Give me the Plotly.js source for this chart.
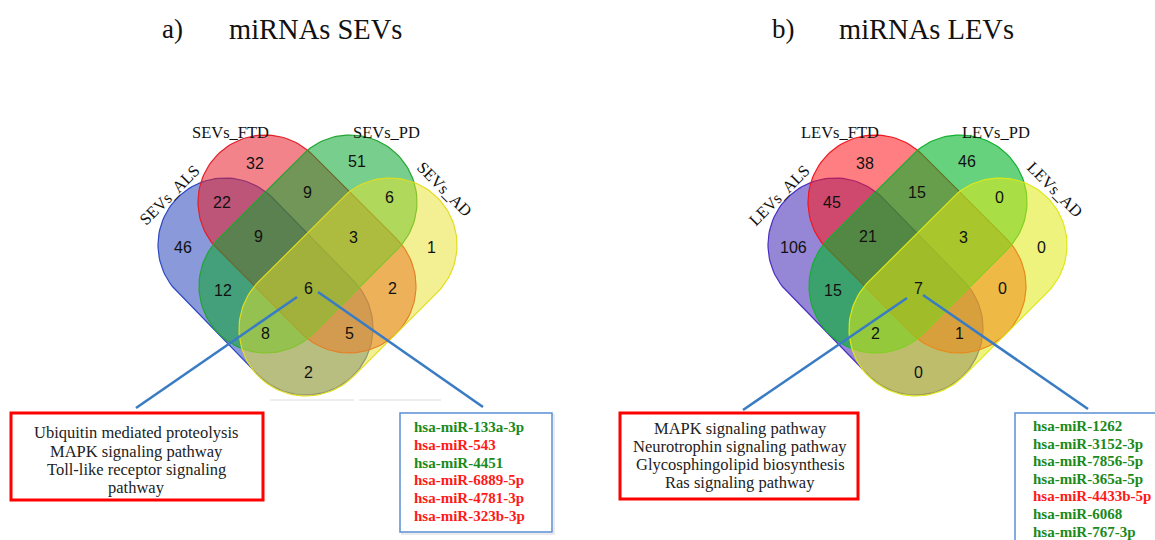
<!DOCTYPE html>
<html>
<head>
<meta charset="utf-8">
<script src="https://cdn.plot.ly/plotly-3.0.1.min.js"></script>
<style>html,body{margin:0;padding:0;background:#fff;}#chart{width:1155px;height:540px;}</style>
</head>
<body>
<div id="chart"></div>
<script>
// ---------------- DATA ----------------
const PANEL_TITLES = ['miRNAs SEVs', 'miRNAs LEVs'];
const PANEL_LETTERS = ['a)', 'b)'];
const SEV_SETS = ['SEVs_ALS', 'SEVs_FTD', 'SEVs_PD', 'SEVs_AD'];
const LEV_SETS = ['LEVs_ALS', 'LEVs_FTD', 'LEVs_PD', 'LEVs_AD'];
// region keys
const REGIONS = ['ALS', 'FTD', 'PD', 'AD', 'ALS&FTD', 'FTD&PD', 'PD&AD', 'ALS&FTD&PD',
                 'FTD&PD&AD', 'ALS&PD', 'ALS&FTD&PD&AD', 'FTD&AD', 'ALS&PD&AD', 'ALS&FTD&AD', 'ALS&AD'];
const SEV_COUNTS = [46, 32, 51, 1, 22, 9, 6, 9, 3, 12, 6, 2, 8, 5, 2];
const LEV_COUNTS = [106, 38, 46, 0, 45, 15, 0, 21, 3, 15, 7, 0, 2, 1, 0];
const SEV_PATHWAYS = ['Ubiquitin mediated proteolysis', 'MAPK signaling pathway', 'Toll-like receptor signaling', 'pathway'];
const LEV_PATHWAYS = ['MAPK signaling pathway', 'Neurotrophin signaling pathway', 'Glycosphingolipid biosynthesis', 'Ras signaling pathway'];
const SEV_MIRNAS = ['hsa-miR-133a-3p', 'hsa-miR-543', 'hsa-miR-4451', 'hsa-miR-6889-5p', 'hsa-miR-4781-3p', 'hsa-miR-323b-3p'];
const SEV_REG = ['up', 'down', 'up', 'down', 'down', 'down'];
const LEV_MIRNAS = ['hsa-miR-1262', 'hsa-miR-3152-3p', 'hsa-miR-7856-5p', 'hsa-miR-365a-5p', 'hsa-miR-4433b-5p', 'hsa-miR-6068', 'hsa-miR-767-3p'];
const LEV_REG = ['up', 'up', 'up', 'up', 'down', 'up', 'up'];

// ---------------- LAYOUT / GEOMETRY ----------------
const PANEL_DX = [0, 610];
const R = 67;
// stadium cap centres (relative to panel)
const STADIA = [
  [[225, 245], [306, 328]],  // ALS
  [[265, 202], [349, 286]],  // FTD
  [[350, 202], [266, 286]],  // PD
  [[390, 245], [306, 329]]   // AD
];
const REGION_POS = [
  [183, 247], [255, 163], [357, 161], [431, 247], [222, 202], [307, 192], [389, 197], [258, 236],
  [353, 237], [223, 290], [308, 288], [392, 288], [265, 333], [349, 333], [308, 372]
];
const FILLS = [
  ['rgba(40,70,185,0.55)', 'rgba(232,30,42,0.55)', 'rgba(10,165,45,0.55)', 'rgba(232,226,40,0.5)'],
  ['rgba(62,36,180,0.55)', 'rgba(255,20,25,0.55)', 'rgba(0,180,40,0.6)', 'rgba(224,234,20,0.55)']
];
const EDGES = [
  ['#3048c0', '#e0202a', '#22a532', '#e2dc20'],
  ['#4a30c0', '#f01820', '#12b030', '#dde818']
];
const LABEL_POS = [[169, 195, -45], [230, 132, 0], [386, 132, 0], [445, 189, 45]];

function stadium(c1, c2, r, dx) {
  const ux = c2[0] - c1[0], uy = c2[1] - c1[1];
  const th = Math.atan2(uy, ux);
  const xs = [], ys = [];
  const N = 60;
  for (let i = 0; i <= N; i++) {
    const a = th - Math.PI / 2 + Math.PI * i / N;
    xs.push(c2[0] + r * Math.cos(a) + dx); ys.push(c2[1] + r * Math.sin(a));
  }
  for (let i = 0; i <= N; i++) {
    const a = th + Math.PI / 2 + Math.PI * i / N;
    xs.push(c1[0] + r * Math.cos(a) + dx); ys.push(c1[1] + r * Math.sin(a));
  }
  xs.push(xs[0]); ys.push(ys[0]);
  return {xs, ys};
}

const traces = [];
const annotations = [];
const shapes = [];

const panels = [
  {sets: SEV_SETS, counts: SEV_COUNTS, pathways: SEV_PATHWAYS, mirnas: SEV_MIRNAS, reg: SEV_REG},
  {sets: LEV_SETS, counts: LEV_COUNTS, pathways: LEV_PATHWAYS, mirnas: LEV_MIRNAS, reg: LEV_REG}
];

panels.forEach((p, pi) => {
  const dx = PANEL_DX[pi];
  STADIA.forEach((st, si) => {
    const s = stadium(st[0], st[1], R, dx);
    traces.push({
      type: 'scatter', mode: 'lines', x: s.xs, y: s.ys, fill: 'toself',
      fillcolor: FILLS[pi][si], line: {color: EDGES[pi][si], width: 1.2},
      hoverinfo: 'skip', showlegend: false
    });
  });
  // region counts
  p.counts.forEach((c, ri) => {
    annotations.push({
      x: REGION_POS[ri][0] + dx, y: REGION_POS[ri][1], xref: 'x', yref: 'y',
      text: String(c), showarrow: false,
      font: {family: 'Liberation Sans, Arial, sans-serif', size: 16, color: '#111'}
    });
  });
  // set labels
  p.sets.forEach((name, si) => {
    annotations.push({
      x: LABEL_POS[si][0] + dx, y: LABEL_POS[si][1], xref: 'x', yref: 'y',
      text: name, showarrow: false, textangle: LABEL_POS[si][2],
      font: {family: 'Liberation Serif, Times New Roman, serif', size: 16.5, color: '#111'}
    });
  });
  // titles
  annotations.push({
    x: 160 + dx, y: 29, xref: 'x', yref: 'y', text: PANEL_LETTERS[pi], showarrow: false,
    xanchor: 'left', font: {family: 'Liberation Serif, serif', size: 27, color: '#111'}
  });
  annotations.push({
    x: 227 + dx, y: 29, xref: 'x', yref: 'y', text: PANEL_TITLES[pi], showarrow: false,
    xanchor: 'left', font: {family: 'Liberation Serif, serif', size: 28.5, color: '#111'}
  });
});

// pointer lines
const LINES = [
  [297, 297, 136, 408], [318, 292, 483, 407],
  [907, 298, 743, 410], [923, 295, 1088, 409]
];
LINES.forEach(l => shapes.push({type: 'line', xref: 'x', yref: 'y', x0: l[0], y0: l[1], x1: l[2], y1: l[3],
  line: {color: '#3a7cc4', width: 2.6}}));

// faint grey rules under left diagram
shapes.push({type: 'line', xref: 'x', yref: 'y', x0: 270, y0: 400, x1: 354, y1: 400, line: {color: '#dcdcdc', width: 1}});
shapes.push({type: 'line', xref: 'x', yref: 'y', x0: 359, y0: 400, x1: 441, y1: 400, line: {color: '#dcdcdc', width: 1}});

// pathway boxes
const RED_BOX = [[11, 413, 263, 500], [620, 413, 858, 499]];
const PATH_TEXT = [[136, [432, 451, 469, 487]], [740, [428, 446, 464, 482]]];
RED_BOX.forEach(b => shapes.push({type: 'rect', xref: 'x', yref: 'y', x0: b[0], y0: b[1], x1: b[2], y1: b[3],
  line: {color: '#ff0000', width: 3}, fillcolor: 'rgba(0,0,0,0)'}));
panels.forEach((p, pi) => {
  p.pathways.forEach((t, i) => annotations.push({
    x: PATH_TEXT[pi][0], y: PATH_TEXT[pi][1][i], xref: 'x', yref: 'y', text: t, showarrow: false,
    font: {family: 'Liberation Serif, Times New Roman, serif', size: 16.5, color: '#222'}
  }));
});

// miRNA boxes
const BLUE_BOX = [[400, 413, 552, 532], [1015, 413, 1162, 548]];
BLUE_BOX.forEach(b => {
  shapes.push({type: 'rect', xref: 'x', yref: 'y', x0: b[0] + 2, y0: b[1] + 2, x1: b[2] + 2, y1: b[3] + 2,
    line: {color: 'rgba(0,0,0,0.08)', width: 2}, fillcolor: 'rgba(0,0,0,0)'});
  shapes.push({type: 'rect', xref: 'x', yref: 'y', x0: b[0], y0: b[1], x1: b[2], y1: b[3],
    line: {color: '#5b8fd4', width: 1.5}, fillcolor: '#ffffff'});
});
const MIR_X = [412, 1031];
const MIR_Y0 = [427, 426], MIR_STEP = [17.8, 17.6];
panels.forEach((p, pi) => {
  p.mirnas.forEach((t, i) => annotations.push({
    x: MIR_X[pi], y: MIR_Y0[pi] + i * MIR_STEP[pi], xref: 'x', yref: 'y', text: '<b>' + t + '</b>', showarrow: false,
    xanchor: 'left',
    font: {family: 'Liberation Serif, Times New Roman, serif', size: 15, color: p.reg[i] === 'up' ? '#1a8a1a' : '#ff1a1a'}
  }));
});

const layout = {
  width: 1155, height: 540,
  margin: {l: 0, r: 0, t: 0, b: 0},
  paper_bgcolor: '#ffffff', plot_bgcolor: '#ffffff',
  xaxis: {range: [0, 1155], visible: false, fixedrange: true},
  yaxis: {range: [540, 0], visible: false, fixedrange: true},
  showlegend: false,
  shapes: shapes,
  annotations: annotations
};

Plotly.newPlot('chart', traces, layout, {displayModeBar: false, staticPlot: true});
</script>
</body>
</html>
